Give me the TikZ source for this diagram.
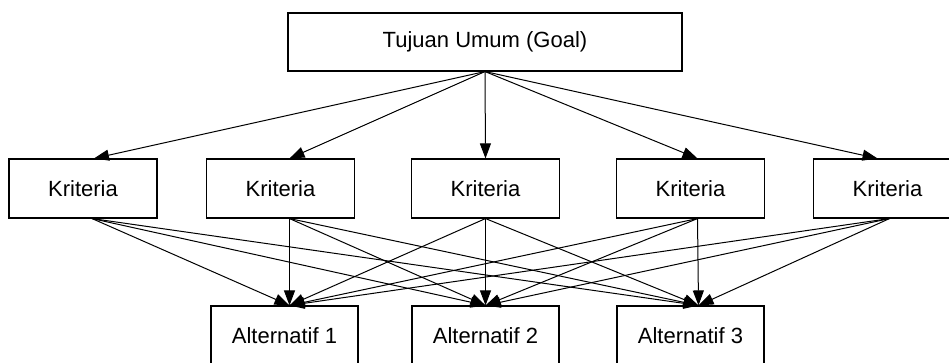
\documentclass[tikz,border=0pt]{standalone}
\usepackage{fontspec}
\setmainfont{Liberation Sans}
\usetikzlibrary{arrows.meta,positioning}
\tikzset{
  hbox/.style={draw=black,line width=1.1pt,rectangle,minimum height=59pt,inner sep=0pt,font=\fontsize{22}{26}\selectfont},
  link/.style={-{Triangle[length=15pt,width=11pt]},line width=1pt}
}
\begin{document}
\begin{tikzpicture}[x=1pt,y=-1pt]
\useasboundingbox (0,0) rectangle (949,363);
\node[hbox,minimum width=394pt,minimum height=58pt] (goal) at (485,42) {Tujuan Umum (Goal)};
\foreach \i/\x in {1/83,2/280.5,3/485.5,4/690.5,5/887.5}
  \node[hbox,minimum width=148pt] (k\i) at (\x,188.5) {Kriteria};
\foreach \i/\x in {1/284.5,2/485.5,3/690.5}
  \node[hbox,minimum width=147pt] (a\i) at (\x,335.5) {Alternatif \i};
% goal -> kriteria
\foreach \i/\s in {1/11,2/9,3/0,4/7,5/-10}
  \draw[link] (goal.south) -- ([xshift=\s pt]k\i.north);
% kriteria -> alternatif
\foreach \i/\s in {1/9,2/9,3/0,4/7,5/2}
  \foreach \j/\t in {1/5,2/0,3/8}
    \draw[link] ([xshift=\s pt]k\i.south) -- ([xshift=\t pt]a\j.north);
\end{tikzpicture}
\end{document}
